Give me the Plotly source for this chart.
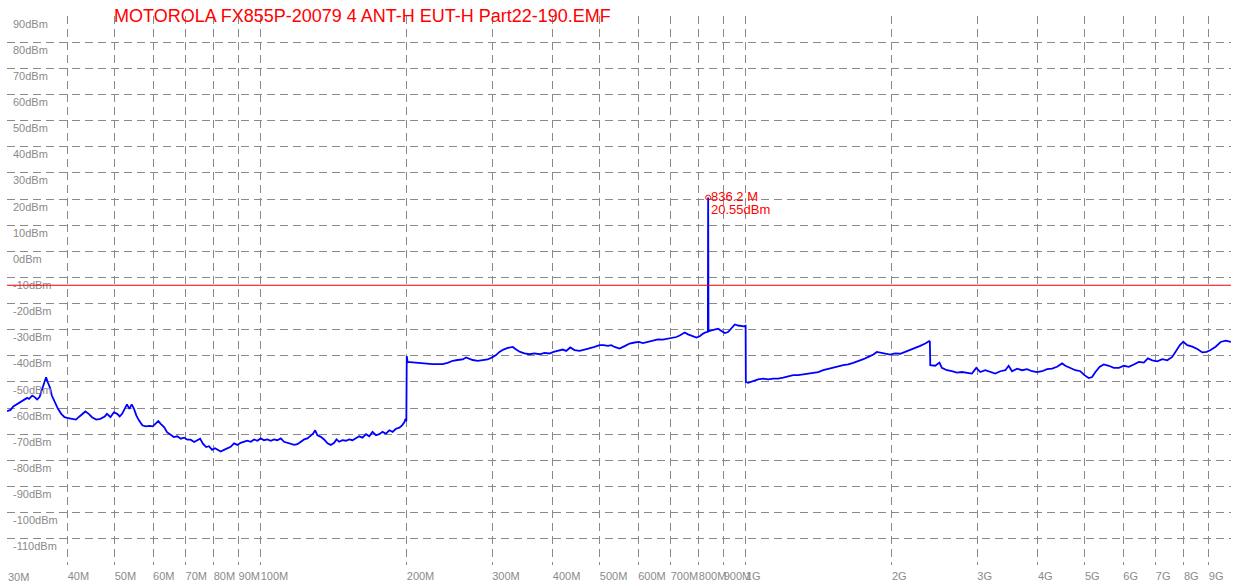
import math
import plotly.graph_objects as go

# ---------------- data ----------------
title_text = "MOTOROLA FX855P-20079 4 ANT-H EUT-H Part22-190.EMF"

# 30 MHz - 80 MHz
seg1_freq_mhz = [30.0, 30.5, 30.9, 31.4, 31.9, 32.5, 33.0, 33.3, 33.8, 34.2,
                 34.6, 35.0, 35.4, 35.9, 36.1, 36.4, 36.8, 37.1, 37.6, 38.2,
                 38.8, 39.4, 40.1, 40.8, 41.6, 42.3, 43.0, 43.5, 44.2, 44.9,
                 45.8, 46.7, 47.7, 48.2, 49.0, 49.8, 50.6, 51.2, 51.8, 52.5,
                 53.0, 53.6, 54.2, 54.8, 55.4, 56.1, 57.0, 57.9, 59.0, 59.9,
                 60.7, 61.5, 62.2, 63.2, 64.1, 65.2, 66.2, 67.3, 68.4, 69.5,
                 70.6, 71.7, 72.9, 74.0, 75.0, 76.0, 77.2, 78.2]
seg1_level_dbm = [-61.2, -60.7, -59.4, -58.6, -57.7, -57.1, -56.1, -56.5, -55.2, -55.8,
                  -56.7, -55.8, -53.3, -50.1, -48.2, -50.1, -52.3, -55.2, -57.7, -60.3,
                  -62.2, -63.5, -63.8, -64.1, -64.4, -63.2, -61.9, -61.3, -62.2, -63.5,
                  -64.4, -64.1, -63.2, -62.2, -63.5, -61.6, -62.2, -63.2, -62.2, -59.7,
                  -58.6, -60.3, -58.6, -60.3, -62.8, -64.7, -66.6, -67.0, -66.8, -67.0,
                  -66.0, -65.0, -66.0, -67.3, -69.2, -70.4, -71.1, -70.8, -71.7, -71.3,
                  -72.1, -72.1, -73.0, -72.3, -71.7, -73.6, -74.9, -74.6]

# 80 MHz - 200 MHz
seg2_freq_mhz = [79.4, 80.5, 81.3, 82.7, 84.0, 85.3, 86.7, 88.1, 89.5, 90.9,
                 92.4, 93.8, 95.4, 96.9, 98.4, 100.0, 101.6, 103.2, 104.9, 106.5,
                 108.2, 110.0, 111.7, 113.5, 115.3, 117.2, 119.0, 120.9, 122.9, 124.8,
                 126.8, 128.2, 129.5, 130.9, 133.0, 135.1, 137.3, 139.5, 141.7, 143.3,
                 145.1, 147.4, 149.8, 152.2, 154.6, 157.1, 159.6, 162.1, 164.8, 167.4,
                 170.0, 172.8, 175.5, 178.3, 181.2, 184.1, 187.0, 190.0, 193.1, 195.6,
                 197.7, 198.9, 199.6]
seg2_level_dbm = [-76.0, -75.4, -75.8, -76.6, -76.0, -75.4, -74.8, -73.5, -74.1, -73.3,
                  -72.9, -72.5, -72.9, -72.0, -72.5, -71.6, -72.3, -72.0, -72.5, -72.0,
                  -72.3, -71.6, -72.9, -73.3, -73.5, -74.1, -73.8, -72.9, -72.0, -71.6,
                  -70.4, -69.8, -68.5, -70.4, -71.0, -72.0, -73.5, -74.1, -73.3, -72.0,
                  -72.9, -72.3, -72.5, -72.0, -72.3, -71.6, -70.8, -71.3, -70.0, -70.8,
                  -69.1, -70.4, -70.0, -69.1, -69.8, -68.5, -69.1, -67.9, -67.5, -66.6,
                  -65.4, -64.1, -65.0]

# 200 MHz - 1 GHz (includes the carrier at 836.2 MHz)
seg3_freq_mhz = [200.0, 200.8, 205.7, 210.6, 215.7, 220.8, 226.1, 231.6, 237.1, 242.8,
                 248.7, 254.6, 260.8, 265.0, 269.2, 273.5, 280.0, 286.8, 293.7, 299.9,
                 305.6, 310.5, 316.4, 323.0, 330.8, 336.1, 342.6, 349.7, 358.1, 366.7,
                 375.5, 384.5, 393.8, 401.4, 409.6, 419.5, 426.3, 434.5, 443.5, 454.2,
                 465.1, 476.3, 487.7, 499.4, 509.0, 519.5, 528.0, 536.4, 549.3, 562.5,
                 576.0, 589.8, 602.0, 613.6, 628.3, 643.4, 658.9, 674.7, 690.9, 705.6,
                 719.1, 730.5, 748.1, 760.0, 776.1, 791.0, 803.5, 816.2, 829.5, 835.0,
                 836.2, 837.5, 849.5, 863.0, 876.6, 890.9, 905.0, 919.3, 934.3, 949.1,
                 964.1, 979.8, 990.5, 999.0]
seg3_level_dbm = [-40.1, -42.3, -42.5, -42.7, -42.7, -42.9, -43.2, -43.2, -43.2, -42.7,
                  -41.9, -41.6, -41.4, -40.6, -41.1, -41.6, -41.9, -41.6, -41.4, -40.6,
                  -39.7, -38.5, -37.6, -37.0, -36.6, -37.6, -38.5, -39.1, -39.4, -39.1,
                  -39.4, -38.9, -39.1, -38.5, -38.1, -37.6, -38.1, -36.8, -37.8, -38.1,
                  -37.6, -37.2, -36.6, -35.9, -35.9, -36.2, -35.9, -36.6, -37.2, -36.3,
                  -35.3, -34.9, -34.7, -35.1, -34.7, -34.1, -33.7, -33.8, -33.4, -33.0,
                  -32.8, -32.2, -31.1, -31.8, -32.5, -33.0, -32.5, -31.5, -30.9, -30.8,
                  20.55, -30.6, -30.3, -30.0, -29.6, -30.5, -31.3, -30.9, -29.6, -28.0,
                  -28.4, -28.6, -28.7, -28.5]

# 1 GHz - 10 GHz
seg4_freq_mhz = [1000, 1011, 1035, 1060, 1086, 1112, 1139, 1166, 1194, 1223,
                 1252, 1282, 1313, 1345, 1377, 1410, 1444, 1479, 1514, 1551,
                 1588, 1626, 1665, 1705, 1747, 1789, 1832, 1862, 1891, 1937,
                 1983, 2031, 2080, 2130, 2182, 2234, 2288, 2343, 2388, 2395,
                 2400, 2457, 2507, 2536, 2596, 2659, 2723, 2789, 2856, 2924,
                 2985, 3043, 3116, 3191, 3267, 3346, 3427, 3481, 3538, 3623,
                 3710, 3799, 3890, 3984, 4080, 4178, 4278, 4381, 4486, 4557,
                 4667, 4779, 4894, 4988, 5091, 5174, 5256, 5365, 5468, 5600,
                 5735, 5873, 6014, 6159, 6306, 6458, 6613, 6741, 6883, 7048,
                 7218, 7391, 7568, 7688, 7847, 7975, 8128, 8323, 8524, 8729,
                 8910, 9081, 9299, 9522, 9751, 10000]
seg4_level_dbm = [-50.0, -50.3, -49.7, -49.0, -48.7, -49.0, -48.7, -48.7, -48.3, -47.8,
                  -47.4, -47.4, -47.2, -46.8, -46.5, -46.2, -45.5, -44.9, -44.5, -44.0,
                  -43.6, -43.3, -42.7, -42.1, -41.3, -40.4, -39.5, -38.5, -38.7, -39.1,
                  -39.5, -39.1, -39.2, -38.5, -37.8, -36.9, -36.2, -35.3, -34.4, -34.6,
                  -43.6, -43.8, -42.6, -44.6, -45.5, -45.9, -46.4, -46.2, -46.4, -46.8,
                  -44.6, -46.2, -45.5, -46.2, -46.8, -45.9, -45.5, -43.8, -45.9, -44.9,
                  -45.5, -45.1, -45.9, -46.2, -45.9, -45.1, -44.9, -44.2, -42.9, -43.8,
                  -44.6, -45.5, -45.9, -47.4, -48.5, -48.1, -46.2, -44.2, -43.3, -43.8,
                  -44.6, -44.6, -43.8, -44.2, -43.3, -42.3, -42.6, -41.0, -41.7, -42.1,
                  -41.3, -41.7, -40.4, -38.5, -35.9, -34.6, -35.9, -36.5, -37.4, -38.7,
                  -38.5, -37.8, -36.5, -34.7, -34.2, -34.7]

limit_dbm = -13.0
marker_freq_mhz = 836.2
marker_level_dbm = 20.55
marker_label_freq = "836.2 M"
marker_label_level = "20.55dBm"

start_label = "30M"
x_tick_vals = [30, 40, 50, 60, 70, 80, 90, 100, 200, 300, 400, 500, 600, 700, 800, 900,
               1000, 2000, 3000, 4000, 5000, 6000, 7000, 8000, 9000, 10000]
x_tick_text = ["", "40M", "50M", "60M", "70M", "80M", "90M", "100M", "200M", "300M",
               "400M", "500M", "600M", "700M", "800M", "900M", "1G", "2G", "3G", "4G",
               "5G", "6G", "7G", "8G", "9G", ""]
y_tick_vals = list(range(-120, 100, 10))
y_tick_text = [""] + [f"{v}dBm" for v in range(-110, 100, 10)]

# ---------------- figure ----------------
freq = seg1_freq_mhz + seg2_freq_mhz + seg3_freq_mhz + seg4_freq_mhz
level = seg1_level_dbm + seg2_level_dbm + seg3_level_dbm + seg4_level_dbm

GRID = "#8a8a8a"
LABEL = "#8a8a8a"
FONT = "Liberation Sans, Arial, sans-serif"

fig = go.Figure()
fig.add_trace(go.Scatter(x=freq, y=level, mode="lines",
                         line=dict(color="#0000ff", width=1.8),
                         hoverinfo="skip", showlegend=False))
fig.add_trace(go.Scatter(x=[marker_freq_mhz], y=[marker_level_dbm], mode="markers",
                         marker=dict(symbol="circle-open", size=5, color="#ff0000",
                                     line=dict(width=1, color="#ff0000")),
                         hoverinfo="skip", showlegend=False))

fig.add_shape(type="line", xref="paper", x0=0, x1=1, yref="y", y0=limit_dbm, y1=limit_dbm,
              line=dict(color="#ee0000", width=1.2))

fig.add_annotation(x=0.0855, y=1.0, xref="paper", yref="paper", text=title_text,
                   showarrow=False, xanchor="left", yanchor="middle",
                   font=dict(family=FONT, size=18, color="#ff0000"))
fig.add_annotation(x=math.log10(marker_freq_mhz), y=marker_level_dbm, text=marker_label_freq,
                   showarrow=False, xanchor="left", yanchor="middle", xshift=1, yshift=1,
                   font=dict(family=FONT, size=13, color="#ff0000"))
fig.add_annotation(x=math.log10(marker_freq_mhz), y=marker_level_dbm, text=marker_label_level,
                   showarrow=False, xanchor="left", yanchor="middle", xshift=1, yshift=-12,
                   font=dict(family=FONT, size=13, color="#ff0000"))
# label of the first (edge) tick, which plotly drops at the range boundary
fig.add_annotation(x=0, y=0, xref="paper", yref="paper", text=start_label,
                   showarrow=False, xanchor="left", yanchor="middle", xshift=-1, yshift=-12,
                   font=dict(family=FONT, size=11, color=LABEL))

fig.update_xaxes(type="log", range=[math.log10(29.99), math.log10(10002)],
                 tickmode="array", tickvals=x_tick_vals, ticktext=x_tick_text,
                 tickangle=0, ticklabelposition="outside right", ticks="",
                 ticklabelstandoff=3,
                 showgrid=True, gridcolor=GRID, gridwidth=1, griddash="8px,5px",
                 showline=False, zeroline=False,
                 tickfont=dict(family=FONT, size=11, color=LABEL))
fig.update_yaxes(range=[-120.05, 90.05], tickmode="array", tickvals=y_tick_vals,
                 ticktext=y_tick_text,
                 ticklabelposition="inside bottom", ticks="", ticklabelstandoff=3,
                 showgrid=True, gridcolor=GRID, gridwidth=1, griddash="8px,5px",
                 showline=False, zeroline=False,
                 tickfont=dict(family=FONT, size=11, color=LABEL))

fig.update_layout(width=1237, height=588,
                  margin=dict(l=7, r=6, t=16, b=20),
                  paper_bgcolor="white", plot_bgcolor="white",
                  showlegend=False)

fig.write_html("out.html", config={"displayModeBar": False},
               post_script="document.body.style.margin='0';document.body.style.overflow='hidden';")
